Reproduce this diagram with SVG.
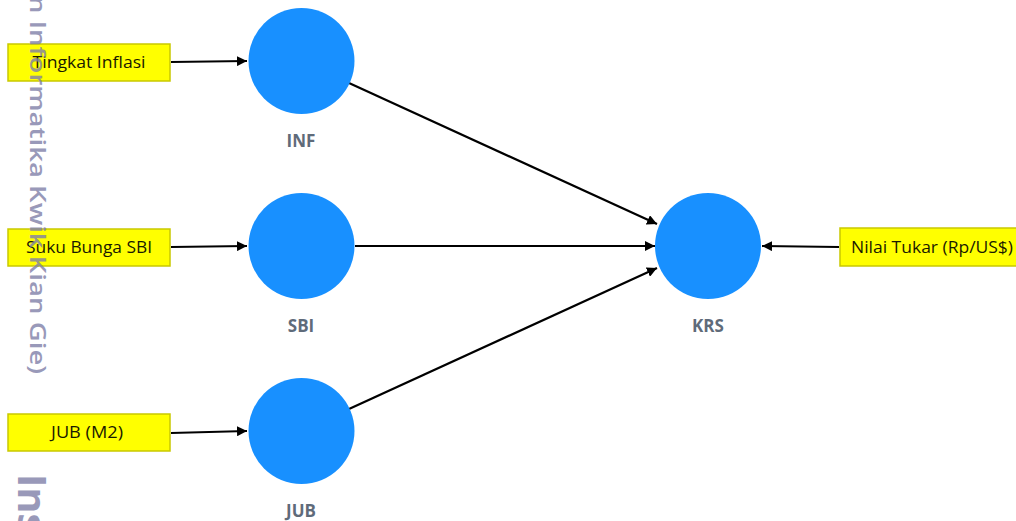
<svg xmlns="http://www.w3.org/2000/svg" width="1016" height="521" viewBox="0 0 1016 521">
<defs>
<marker id="arr" markerUnits="userSpaceOnUse" markerWidth="11" markerHeight="10" refX="10" refY="5" orient="auto">
<path d="M0,0 L10,5 L0,10 z" fill="#000"/>
</marker>
<style>
.box{fill:#ffff00;stroke:#c9c900;stroke-width:1.5}
.btxt{font-family:"Open Sans","Noto Sans",sans-serif;font-size:16px;fill:#1a1a00;text-anchor:middle}
.lv{fill:#1890ff}
.lbl{font-family:"Open Sans","Noto Sans",sans-serif;font-size:17px;font-weight:bold;fill:#5f6b7a;text-anchor:middle}
.con{stroke:#000;stroke-width:2.2;fill:none;marker-end:url(#arr)}
.wm{font-family:"Open Sans","Noto Sans",sans-serif;fill:#8080a8;opacity:0.8}
</style>
</defs>
<rect width="1016" height="521" fill="#fff"/>
<g id="connectors">
<line class="con" x1="171" y1="62" x2="247" y2="61"/>
<line class="con" x1="171" y1="247" x2="247" y2="246"/>
<line class="con" x1="171" y1="433" x2="247" y2="431"/>
<line class="con" x1="349" y1="83" x2="657" y2="224"/>
<line class="con" x1="355" y1="246" x2="655" y2="246"/>
<line class="con" x1="349" y1="409" x2="657" y2="268"/>
<line class="con" x1="839" y1="247" x2="762" y2="246"/>
</g>
<g id="ind-inflasi"><rect class="box" x="8" y="44" width="162" height="37"/><text class="btxt" x="89" y="68" textLength="113" lengthAdjust="spacingAndGlyphs">Tingkat Inflasi</text></g>
<g id="ind-sbi"><rect class="box" x="8" y="229" width="162" height="37"/><text class="btxt" x="89" y="253" textLength="126" lengthAdjust="spacingAndGlyphs">Suku Bunga SBI</text></g>
<g id="ind-jub"><rect class="box" x="8" y="414" width="162" height="37"/><text class="btxt" x="87" y="438" textLength="72" lengthAdjust="spacingAndGlyphs">JUB (M2)</text></g>
<g id="ind-nilai"><rect class="box" x="840" y="228" width="182" height="38"/><text class="btxt" x="932" y="253" textLength="162" lengthAdjust="spacingAndGlyphs">Nilai Tukar (Rp/US$)</text></g>
<g id="INF"><circle class="lv" cx="301.5" cy="61" r="53"/><text class="lbl" x="301" y="147">INF</text></g>
<g id="SBI"><circle class="lv" cx="301.5" cy="246" r="53"/><text class="lbl" x="301" y="332">SBI</text></g>
<g id="JUB"><circle class="lv" cx="301.5" cy="431" r="53"/><text class="lbl" x="301" y="517">JUB</text></g>
<g id="KRS"><circle class="lv" cx="708" cy="246" r="53"/><text class="lbl" x="708" y="332">KRS</text></g>
<g id="watermark">
<text class="wm" transform="translate(30,-4) rotate(90)" font-size="22" font-weight="600" textLength="378" lengthAdjust="spacingAndGlyphs">n Informatika Kwik Kian Gie)</text>
<text class="wm" transform="translate(18,474) rotate(90)" font-size="40" font-weight="bold">Ins</text>
</g>
</svg>
